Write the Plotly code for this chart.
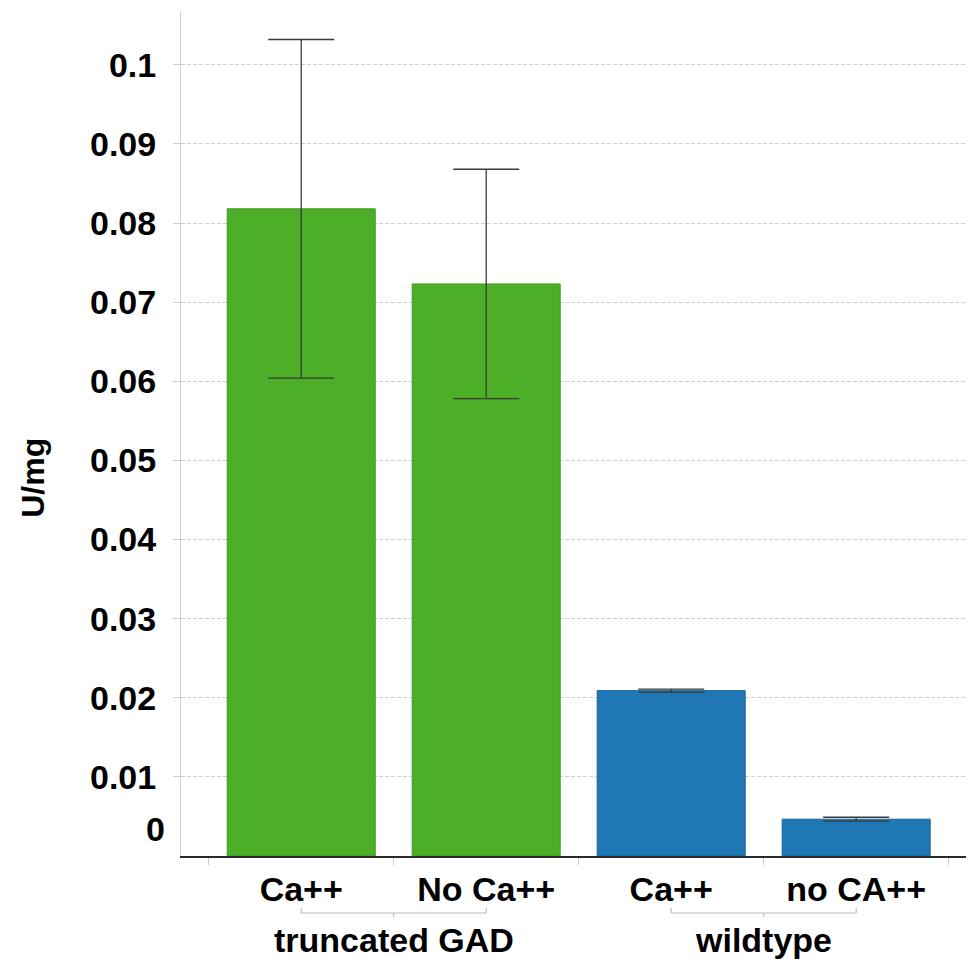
import plotly.graph_objects as go

groups = ["truncated GAD", "truncated GAD", "wildtype", "wildtype"]
conditions = ["Ca++", "No Ca++", "Ca++", "no CA++"]
values = [0.0818, 0.0723, 0.0209, 0.00465]
errors = [0.0214, 0.0145, 0.0002, 0.00025]
bar_colors = ["#4DAF28", "#4DAF28", "#1F77B4", "#1F77B4"]
edge_colors = ["#3F9A1E", "#3F9A1E", "#17649A", "#17649A"]
y_ticks = [0.01, 0.02, 0.03, 0.04, 0.05, 0.06, 0.07, 0.08, 0.09, 0.1]
y_ticktext = ["0.01", "0.02", "0.03", "0.04", "0.05", "0.06", "0.07", "0.08", "0.09", "0.1"]
group_names = ["truncated GAD", "wildtype"]
group_centers = [0.5, 2.5]

FONT = "Liberation Sans, Arial, sans-serif"
FS = 34
xpos = list(range(len(conditions)))

fig = go.Figure()
fig.add_trace(go.Bar(
    x=xpos, y=values, width=0.8,
    marker=dict(color=bar_colors, line=dict(color=edge_colors, width=1)),
    error_y=dict(type="data", array=errors, visible=True, color="#3a3a3a",
                 thickness=1.3, width=33),
    showlegend=False,
))

# page body has an 8px margin, so the figure is sized to fit the window
fig.update_layout(
    width=966, height=951,
    margin=dict(l=173, r=0, t=3, b=103),
    plot_bgcolor="white", paper_bgcolor="white",
    font=dict(family=FONT, color="black"),
    xaxis=dict(
        automargin=False,
        range=[-0.65, 3.637],
        tickmode="array", tickvals=xpos, ticktext=conditions,
        ticks="", showgrid=False, zeroline=False,
        showline=True, linecolor="#2a2a2a", linewidth=2,
        tickfont=dict(family=FONT, size=FS, weight="bold", color="black"),
        ticklabelstandoff=2,
        minor=dict(tickmode="linear", tick0=-0.5, dtick=1, ticks="outside",
                   ticklen=7, tickcolor="#c8c8c8", tickwidth=1, showgrid=False),
    ),
    yaxis=dict(
        automargin=False,
        range=[0, 0.1068],
        tickmode="array", tickvals=y_ticks, ticktext=y_ticktext,
        ticks="outside", ticklen=7, tickcolor="#d0d0d0",
        showgrid=True, gridcolor="#d0d0d0", griddash="4px,2px", gridwidth=1,
        zeroline=False, showline=True, linecolor="#cfcfcf", linewidth=1,
        tickfont=dict(family=FONT, size=FS, weight="bold", color="black"),
        ticklabelstandoff=10,
    ),
)

# y-axis title
fig.add_annotation(text="U/mg", xref="paper", x=0, xanchor="center", xshift=-148,
                   yref="y", y=0.0478, yanchor="middle", textangle=-90, showarrow=False,
                   font=dict(family=FONT, size=32, weight="bold", color="black"))

# "0" label sits above the axis line in the reference
fig.add_annotation(text="0", xref="paper", x=0, xanchor="right", xshift=-14,
                   yref="y", y=0, yanchor="middle", yshift=27, showarrow=False,
                   font=dict(family=FONT, size=FS, weight="bold", color="black"))

for name, c in zip(group_names, group_centers):
    fig.add_annotation(text=name, xref="x", x=c, xanchor="center",
                       yref="y", y=0, yanchor="middle", yshift=-84, showarrow=False,
                       font=dict(family=FONT, size=FS, weight="bold", color="black"))
    lc = "#bdbdbd"
    common = dict(xref="x", yref="paper", ysizemode="pixel", yanchor=0,
                  layer="above", line=dict(color=lc, width=1.2))
    fig.add_shape(type="line", x0=c - 0.5, x1=c + 0.5, y0=-57, y1=-57, **common)
    for xe in (c - 0.5, c + 0.5):
        fig.add_shape(type="line", x0=xe, x1=xe, y0=-57, y1=-52, **common)
    fig.add_shape(type="line", x0=c, x1=c, y0=-57, y1=-61, **common)

fig.write_html("out.html")
